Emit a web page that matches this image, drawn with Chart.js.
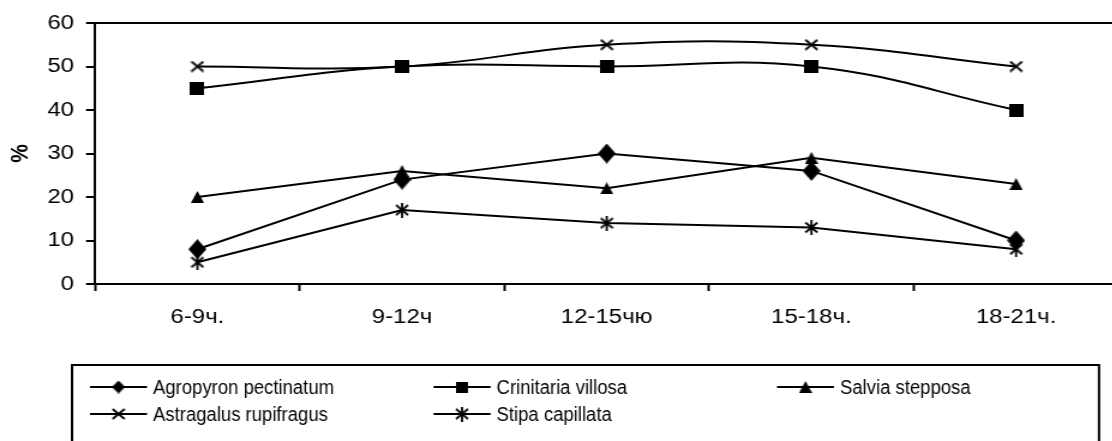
<!DOCTYPE html>
<html>
<head>
<meta charset="utf-8">
<script src="https://cdn.jsdelivr.net/npm/chart.js@4.4.1/dist/chart.umd.min.js"></script>
<style>
  html, body { margin: 0; padding: 0; background: #fff; overflow: hidden; }
  #wrap { width: 1112px; height: 441px; overflow: hidden; position: relative; }
  #c { position: absolute; left: 0; top: 0; transform: scaleX(1.2); transform-origin: 0 0; }
</style>
</head>
<body>
<div id="wrap"><canvas id="c" width="940" height="441"></canvas></div>
<script>
// Time-of-day intervals and the share (%) recorded for each species
const timeSlots = ['6-9ч.', '9-12ч', '12-15чю', '15-18ч.', '18-21ч.'];
const yTickValues = [0, 10, 20, 30, 40, 50, 60];

const agropyronPectinatum = [8, 24, 30, 26, 10];
const crinitariaVillosa   = [45, 50, 50, 50, 40];
const salviaStepposa      = [20, 26, 22, 29, 23];
const astragalusRupifragus = [50, 50, 55, 55, 50];
const stipaCapillata      = [5, 17, 14, 13, 8];

// Layout (page pixels); the canvas is drawn narrower and stretched horizontally by SX
const SX = 1.2;
const W = 940, H = 441;
const plotLeft = 95, plotRight = 1120, plotTop = 23, plotBottom = 284;
const FONT = '"Liberation Sans", Arial, Helvetica, sans-serif';
const LEGEND_TEXT_SCALE = 0.925; // legend labels are set narrower than the axis labels

Chart.defaults.font.family = FONT;
Chart.defaults.font.size = 20;
Chart.defaults.color = '#000';

function makeMarker(w, h, draw) {
  const c = document.createElement('canvas');
  c.width = w; c.height = h;
  const g = c.getContext('2d');
  g.fillStyle = '#000';
  g.strokeStyle = '#000';
  draw(g, w, h);
  return c;
}
const diamond = (w, h) => makeMarker(w, h, (g) => {
  g.beginPath();
  g.moveTo(w / 2, 0); g.lineTo(w, h / 2); g.lineTo(w / 2, h); g.lineTo(0, h / 2);
  g.closePath(); g.fill();
});
const markDiamond = diamond(15, 20);
const markDiamondSmall = diamond(11, 13);
const markSquare = makeMarker(12, 13, (g, w, h) => g.fillRect(0, 0, w, h));
const markSquareSmall = makeMarker(10, 11, (g, w, h) => g.fillRect(0, 0, w, h));
const markTriangle = makeMarker(11, 12, (g, w, h) => {
  g.beginPath(); g.moveTo(w / 2, 0); g.lineTo(w, h); g.lineTo(0, h); g.closePath(); g.fill();
});
const markCross = makeMarker(12, 12, (g, w, h) => {
  g.lineWidth = 1.8;
  g.beginPath();
  g.moveTo(1, 1); g.lineTo(w - 1, h - 1);
  g.moveTo(w - 1, 1); g.lineTo(1, h - 1);
  g.stroke();
});
const markStar = makeMarker(12, 15, (g, w, h) => {
  g.lineWidth = 1.8;
  g.beginPath();
  g.moveTo(w / 2, 0); g.lineTo(w / 2, h);
  g.moveTo(1, 2.5); g.lineTo(w - 1, h - 2.5);
  g.moveTo(w - 1, 2.5); g.lineTo(1, h - 2.5);
  g.stroke();
});

function series(label, data, marker, tension, legendMarker) {
  return {
    label, data,
    borderColor: '#000', backgroundColor: '#000',
    borderWidth: 2,
    tension,
    pointStyle: marker,
    pointRadius: 6,
    legendMarker: legendMarker || marker
  };
}

// Boxed legend below the plot: three columns, line sample with marker
const legendBox = {
  id: 'legendBox',
  afterDraw(chart) {
    const ctx = chart.ctx;
    ctx.save();
    ctx.strokeStyle = '#000';
    ctx.lineWidth = 2;
    ctx.strokeRect(72 / SX, 365, (1099 - 72) / SX, 120);
    ctx.font = '20px ' + FONT;
    ctx.fillStyle = '#000';
    ctx.textBaseline = 'alphabetic';
    chart.data.datasets.forEach((ds, i) => {
      const col = i % 3, row = Math.floor(i / 3);
      const x0 = (90 + 343.5 * col) / SX;
      const y = 387 + 27 * row;
      ctx.beginPath();
      ctx.moveTo(x0, y);
      ctx.lineTo(x0 + 57 / SX, y);
      ctx.stroke();
      const m = ds.legendMarker;
      ctx.drawImage(m, x0 + 28.5 / SX - m.width / 2, y - m.height / 2);
      ctx.save();
      ctx.translate(x0 + 63 / SX, y + 7);
      ctx.scale(LEGEND_TEXT_SCALE / SX, 1);
      ctx.fillText(ds.label, 0, 0);
      ctx.restore();
    });
    ctx.restore();
  }
};

new Chart(document.getElementById('c'), {
  type: 'line',
  data: {
    labels: timeSlots,
    datasets: [
      series('Agropyron pectinatum', agropyronPectinatum, markDiamond, 0, markDiamondSmall),
      series('Crinitaria villosa', crinitariaVillosa, markSquare, 0.42, markSquareSmall),
      series('Salvia stepposa', salviaStepposa, markTriangle, 0),
      series('Astragalus rupifragus', astragalusRupifragus, markCross, 0.42),
      series('Stipa capillata', stipaCapillata, markStar, 0)
    ]
  },
  options: {
    responsive: false,
    animation: false,
    events: [],
    devicePixelRatio: 1,
    layout: { padding: { top: plotTop, right: W - plotRight / SX, left: 0, bottom: 0 } },
    plugins: { legend: { display: false }, tooltip: { enabled: false } },
    scales: {
      x: {
        offset: true,
        grid: { offset: true, drawOnChartArea: false, tickLength: 7, tickColor: '#000', tickWidth: 2 },
        border: { color: '#000', width: 2 },
        ticks: { color: '#000', font: { size: 20 }, padding: 14, maxRotation: 0, autoSkip: false },
        afterFit(s) { s.height = H - plotBottom; }
      },
      y: {
        min: 0, max: 60,
        afterBuildTicks(s) { s.ticks = yTickValues.map(v => ({ value: v })); },
        grid: {
          color: c => (c.tick && c.tick.value === 60 ? '#000' : 'rgba(0,0,0,0)'),
          lineWidth: 2,
          tickLength: 7.5, tickColor: '#000', tickWidth: 2
        },
        border: { color: '#000', width: 2 },
        ticks: { color: '#000', font: { size: 20 }, padding: 10 },
        title: { display: true, text: '%', color: '#000', font: { size: 21, weight: 'bold' }, padding: { top: 5, bottom: 0 } },
        afterFit(s) { s.width = plotLeft / SX; }
      }
    }
  },
  plugins: [legendBox]
});
</script>
</body>
</html>
